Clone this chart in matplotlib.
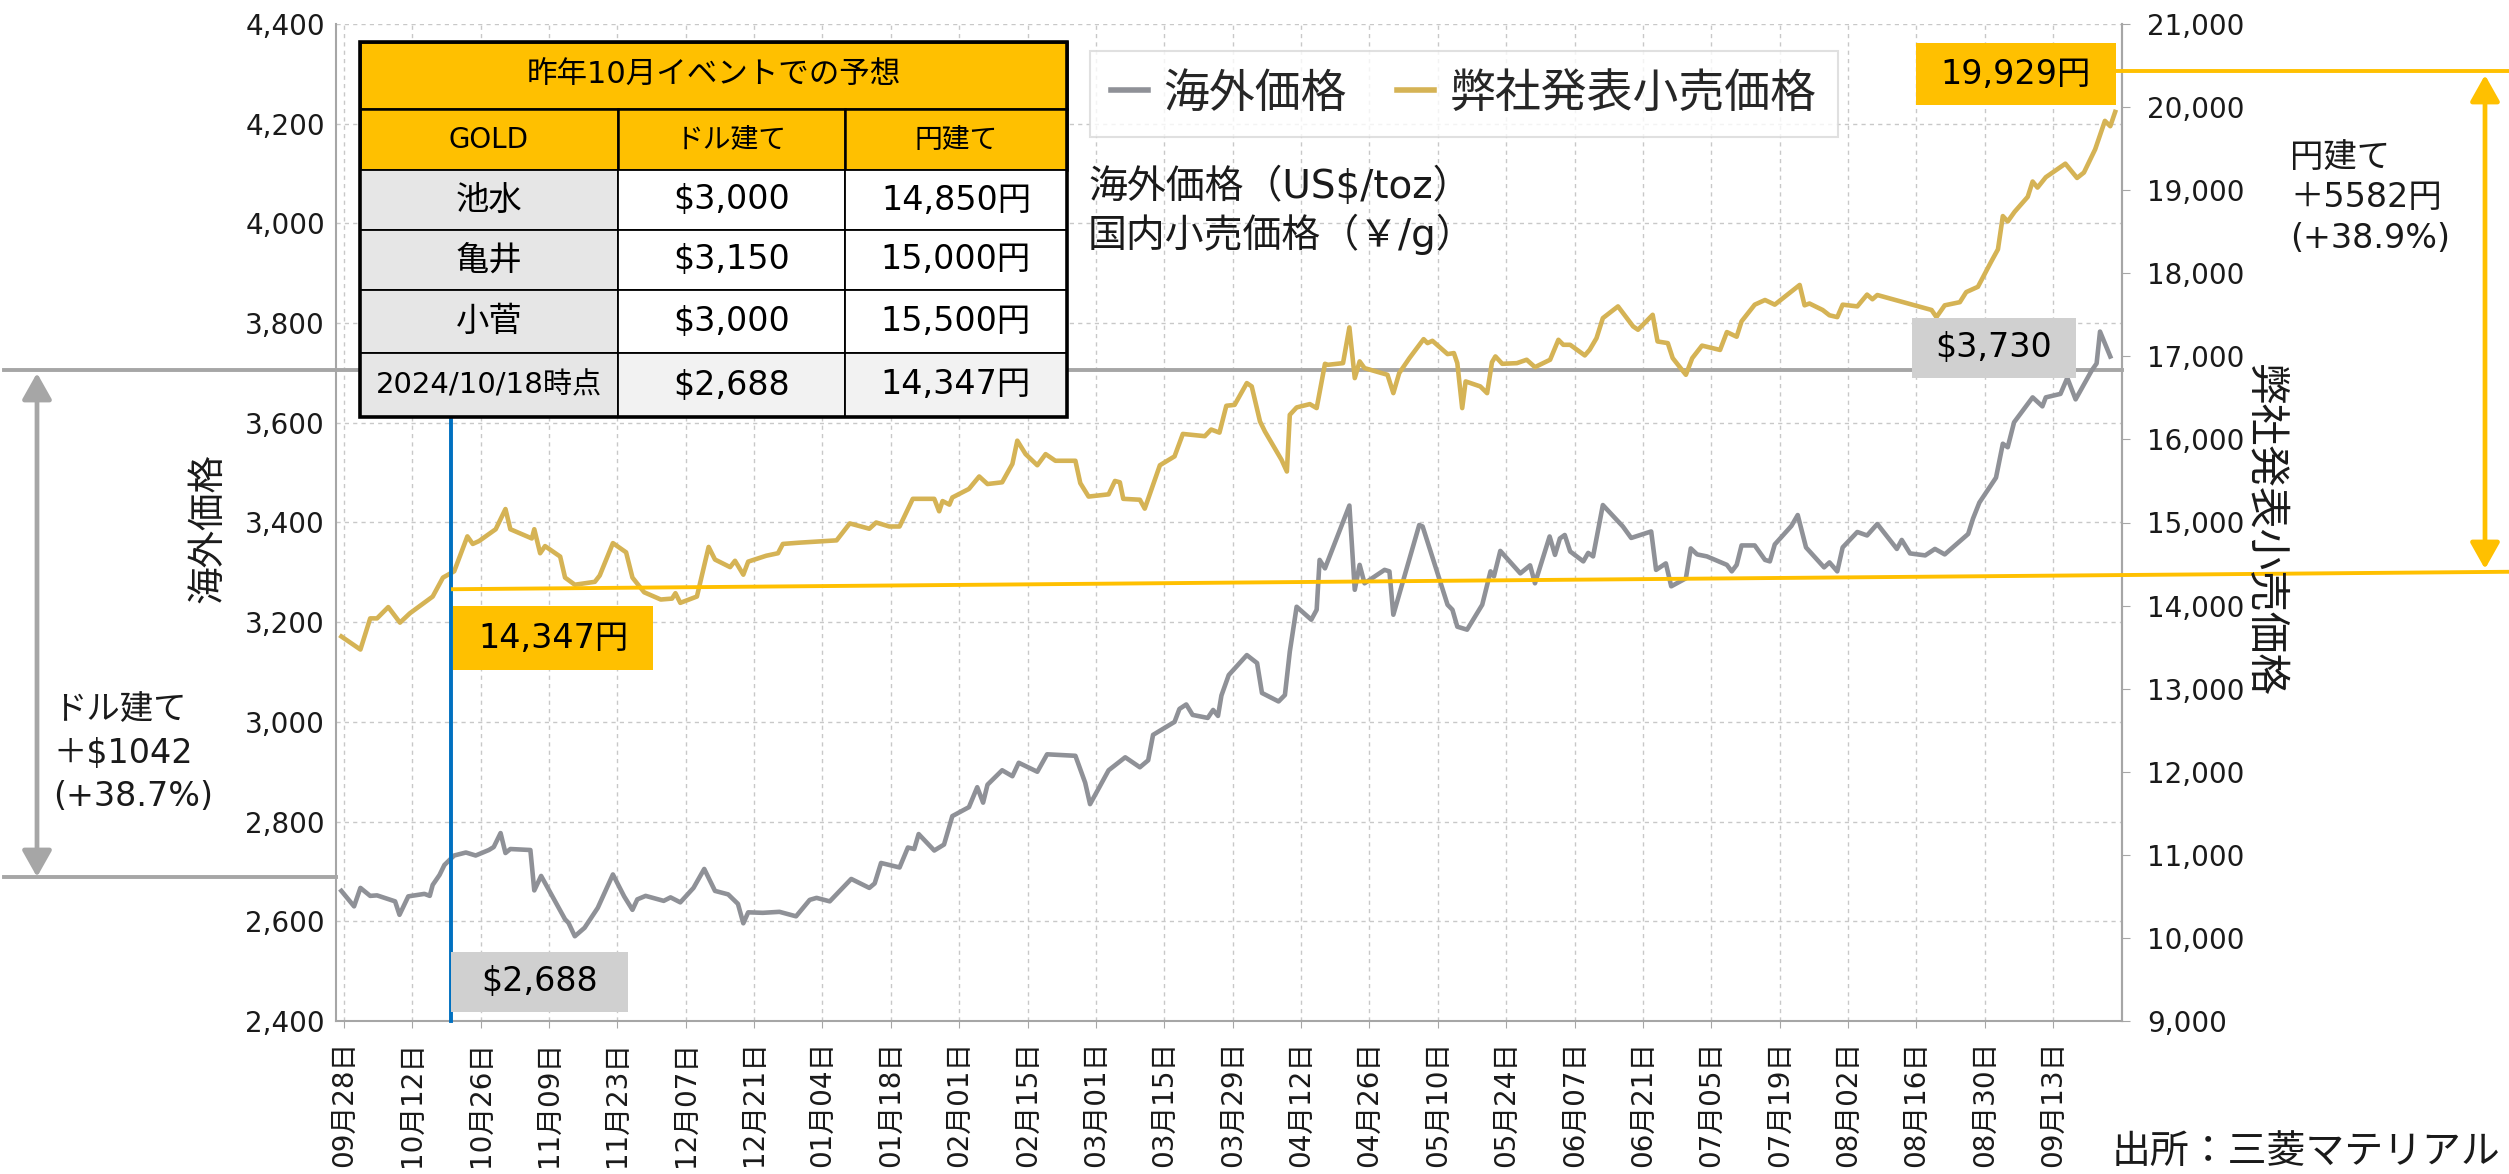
import numpy as np
import pandas as pd
import matplotlib
matplotlib.use('Agg')
import matplotlib.pyplot as plt
import matplotlib.dates as mdates
import matplotlib.transforms as mtrans
from matplotlib.patches import Rectangle, FancyArrowPatch
from matplotlib.lines import Line2D
from matplotlib.ticker import FuncFormatter

plt.rcParams['font.family'] = ['DejaVu Sans', 'Noto Sans CJK JP']

# ---- data (days after 2024-09-28) ----
start = pd.Timestamp('2024-09-28')

usd_day = [-0.5, 2.1, 3.4, 5.4, 6.8, 10.5, 11.4, 13.2, 16.5, 17.6,
           18.2, 19.6, 20.6, 22.6, 25.0, 27.0, 29.7, 30.7, 32.1, 33.1,
           34.1, 38.2, 39.0, 40.4, 42.6, 45.3, 46.0, 47.3, 49.3, 52.0,
           55.1, 57.4, 59.1, 60.1, 61.8, 65.5, 66.9, 68.9, 71.6, 73.8,
           76.0, 78.7, 80.7, 81.8, 82.8, 85.8, 89.2, 92.6,
           95.4, 96.8, 99.5, 103.9, 107.6, 108.7, 110.0, 113.8, 115.5, 116.8,
           117.7, 120.9, 122.9, 124.6, 128.0, 129.7, 130.9, 131.8, 134.8, 136.9,
           138.2, 142.0, 144.0, 149.8, 151.8, 152.8, 156.6, 160.0, 163.0, 164.7,
           165.7, 170.1, 171.1, 172.5, 173.8, 176.9, 178.0, 179.0, 179.7,
           181.2, 184.9, 187.0, 188.0, 191.4, 192.7, 193.7, 195.1, 198.1, 199.2,
           199.8, 200.9, 205.9, 207.0, 208.0, 209.0, 213.1, 214.1, 214.9, 220.2,
           220.9, 226.0, 227.0, 228.0, 230.0, 233.1, 234.8, 235.5, 236.8, 240.9,
           242.9, 243.9, 246.9, 248.0, 249.0, 250.0, 251.1, 253.8, 254.8, 255.8,
           257.8, 261.9, 263.6, 267.7, 268.7, 270.7, 271.8,
           274.8, 275.8, 277.1, 279.1, 283.2, 284.2, 285.2, 286.2, 288.9, 291.0,
           292.0, 293.0, 296.4, 297.7, 299.4, 303.1, 304.2, 305.8, 306.9, 309.9,
           311.9, 314.0, 318.0, 319.0, 320.7, 323.8, 325.8, 327.8, 332.6, 333.6,
           334.9, 338.3, 339.7, 340.7, 342.0, 345.8, 347.8, 348.5, 351.5, 352.9,
           354.6, 357.9, 358.9, 359.6, 361.7]
usd_val = [2661, 2630, 2667, 2651, 2652, 2640, 2613, 2650, 2655, 2651,
           2673, 2693, 2713, 2732, 2738, 2732, 2743, 2749, 2777, 2737,
           2745, 2743, 2662, 2691, 2652, 2604, 2597, 2570, 2587, 2627,
           2694, 2650, 2623, 2644, 2651, 2641, 2648, 2638, 2667, 2705,
           2661, 2654, 2635, 2596, 2618, 2617, 2619, 2610,
           2643, 2647, 2640, 2685, 2667, 2676, 2717, 2708, 2748, 2745,
           2775, 2742, 2754, 2811, 2829, 2869, 2838, 2874, 2903, 2891,
           2918, 2900, 2935, 2932, 2878, 2835, 2903, 2929, 2909, 2923,
           2974, 3000, 3026, 3035, 3014, 3008, 3024, 3012, 3053,
           3094, 3134, 3118, 3058, 3041, 3054, 3141, 3231, 3205, 3225,
           3325, 3308, 3434, 3265, 3315, 3278, 3305, 3302, 3215, 3395,
           3392, 3235, 3225, 3191, 3185, 3235, 3302, 3292, 3343, 3298,
           3314, 3278, 3372, 3335, 3368, 3375, 3342, 3322, 3339, 3332,
           3435, 3392, 3369, 3382, 3305, 3318, 3272,
           3288, 3348, 3336, 3332, 3315, 3302, 3315, 3354, 3354, 3325,
           3322, 3356, 3393, 3415, 3350, 3310, 3320, 3302, 3350, 3381,
           3374, 3397, 3347, 3365, 3338, 3334, 3347, 3336, 3377, 3408,
           3440, 3490, 3558, 3551, 3601, 3651, 3633, 3651, 3658, 3690,
           3647, 3705, 3719, 3783, 3733]

jpy_day = [-0.5, 3.4, 5.4, 6.8, 9.1, 11.5, 13.5, 18.2, 20.3, 22.6,
           25.3, 26.4, 27.7, 31.1, 33.1, 34.1, 38.5, 39.0, 40.2, 41.2,
           44.3, 45.3, 47.3, 51.4, 52.4, 55.1, 57.8, 59.1, 61.5, 64.9,
           67.2, 67.9, 68.9, 72.3, 74.7, 76.0, 79.1, 80.1, 81.8, 82.8,
           86.5, 88.9, 89.9, 93.2,
           100.9, 103.6, 107.6, 109.0, 111.7, 113.8, 116.5, 120.9, 121.9, 122.6,
           124.0, 124.6, 128.0, 130.1, 131.8, 134.8, 136.9, 137.9, 139.6, 142.0,
           143.7, 145.7, 149.8, 150.8, 152.5, 156.6, 157.9, 158.9, 159.6, 163.0,
           164.0, 167.1, 170.1, 171.8, 176.3, 177.6, 179.3, 180.7, 182.4,
           184.9, 185.9, 187.6, 188.6, 191.4, 192.0, 193.1, 193.7, 195.1, 197.8,
           199.2, 200.9, 201.5, 204.6, 205.9, 207.0, 208.0, 209.0, 213.7, 214.9,
           216.1, 218.2, 221.1, 221.9, 222.9, 226.0, 227.3, 228.0, 229.0, 229.7,
           232.7, 234.1, 235.1, 235.8, 237.2, 240.2, 242.2, 243.9, 247.0, 248.7,
           249.7, 251.1, 254.1, 255.1, 256.5, 257.8, 260.9, 264.0, 265.0, 268.0,
           269.0, 271.1, 272.1,
           274.8, 276.1, 278.1, 281.8, 283.2, 285.2, 286.2, 288.9, 291.0, 293.0,
           298.1, 299.1, 300.1, 302.8, 304.2, 305.8, 306.9, 309.9, 311.9, 313.0,
           314.0, 325.1, 326.1, 327.8, 330.9, 332.2, 334.6, 337.3, 338.7, 339.7,
           340.7, 342.1, 344.8, 345.8, 346.8, 348.5, 352.5, 354.9, 356.3, 358.6,
           360.6, 361.7, 362.7]
jpy_val = [13628, 13471, 13846, 13846, 13982, 13795, 13906, 14109, 14337, 14413,
           14833, 14742, 14777, 14919, 15162, 14919, 14808, 14919, 14630, 14716,
           14590, 14337, 14251, 14286, 14362, 14752, 14641, 14337, 14160, 14073,
           14084, 14149, 14033, 14109, 14706, 14554, 14463, 14539, 14372, 14529,
           14600, 14630, 14742, 14757,
           14785, 14989, 14925, 15000, 14952, 14952, 15285, 15285, 15135, 15258,
           15215, 15301, 15404, 15554, 15463, 15484, 15705, 15985, 15823, 15689,
           15823, 15743, 15743, 15474, 15312, 15339, 15500, 15484, 15285, 15274,
           15167, 15689, 15796, 16066, 16039, 16119, 16082, 16405, 16416,
           16678, 16638, 16216, 16096, 15815, 15755, 15614, 16296, 16385, 16425,
           16377, 16910, 16898, 16918, 17348, 16738, 16939, 16858, 16778, 16557,
           16798, 16979, 17207, 17159, 17187, 17027, 17039, 16918, 16377, 16698,
           16638, 16557, 16930, 16999, 16910, 16918, 16959, 16870, 16959, 17199,
           17139, 17139, 17011, 17079, 17219, 17460, 17601, 17360, 17320, 17500,
           17179, 17159, 16979,
           16778, 16978, 17129, 17077, 17292, 17236, 17421, 17622, 17678, 17622,
           17859, 17614, 17636, 17558, 17494, 17472, 17622, 17601, 17743, 17687,
           17738, 17558, 17472, 17614, 17652, 17773, 17837, 18138, 18288, 18688,
           18623, 18739, 18920, 19104, 19031, 19156, 19319, 19147, 19212, 19491,
           19834, 19770, 19942]

usd_ticks = np.arange(2400, 4401, 200)
jpy_ticks = np.arange(9000, 21001, 1000)
x_ticks = pd.date_range('2024-09-28', '2025-09-13', freq='14D')

series_names = ['海外価格', '弊社発表小売価格']

table_title = '昨年10月イベントでの予想'
table_header = ['GOLD', 'ドル建て', '円建て']
table_rows = [['池水', '$3,000', '14,850円'],
              ['亀井', '$3,150', '15,000円'],
              ['小菅', '$3,000', '15,500円'],
              ['2024/10/18時点', '$2,688', '14,347円']]

unit_lines = ['海外価格（US$/toz）', '国内小売価格（￥/g）']
usd_note = ['ドル建て', '＋$1042', '(+38.7%)']
jpy_note = ['円建て', '＋5582円', '(+38.9%)']

event_date = pd.Timestamp('2024-10-20')
usd_then, usd_now = 2688, 3705
jpy_then, jpy_now = 14347, 20430

GRAY = '#8F9197'
GOLD = '#D5B355'
YELLOW = '#FFC000'
BOXGRAY = '#D0D0D0'
LINEGRAY = '#A6A6A6'
BLUE = '#0070C0'
TXT = '#1A1A1A'

W, H = 2509, 1174


def fx(px):
    return px / W


def fy(py):
    return 1 - py / H


fig = plt.figure(figsize=(W / 100, H / 100), dpi=100)
ax = fig.add_axes([fx(336), fy(1021), fx(2122) - fx(336), fy(24) - fy(1021)])
ax2 = ax.twinx()

usd_dates = start + pd.to_timedelta(usd_day, unit='D')
jpy_dates = start + pd.to_timedelta(jpy_day, unit='D')

ax.plot(usd_dates, usd_val, color=GRAY, lw=3.3, solid_joinstyle='round', zorder=3)
ax2.plot(jpy_dates, jpy_val, color=GOLD, lw=3.3, solid_joinstyle='round', zorder=3)

ax.set_xlim(start - pd.Timedelta(days=1.6), start + pd.Timedelta(days=364.1))
ax.set_ylim(2400, 4400)
ax2.set_ylim(9000, 21000)
ax.set_yticks(usd_ticks)
ax2.set_yticks(jpy_ticks)
ax.set_xticks(x_ticks)
ax.xaxis.set_major_formatter(mdates.DateFormatter('%m月%d日'))
comma = FuncFormatter(lambda v, p: f'{v:,.0f}')
ax.yaxis.set_major_formatter(comma)
ax2.yaxis.set_major_formatter(comma)

ax.grid(True, color='#C8C8C8', lw=1.0, ls=(0, (3, 3)))
ax.set_axisbelow(True)
ax.spines['top'].set_visible(False)
for s in ['left', 'bottom', 'right']:
    ax.spines[s].set_color(LINEGRAY)
    ax.spines[s].set_linewidth(1.5)
for s in ['top', 'left', 'bottom']:
    ax2.spines[s].set_visible(False)
ax2.spines['right'].set_color(LINEGRAY)
ax2.spines['right'].set_linewidth(1.5)

ax.tick_params(axis='y', length=0, pad=8, labelsize=20, labelcolor=TXT)
ax.tick_params(axis='x', length=5, color=LINEGRAY, pad=9, labelsize=20,
               labelcolor=TXT, labelrotation=90)
ax2.tick_params(axis='y', length=6, color=LINEGRAY, pad=12, labelsize=20, labelcolor=TXT)

# axis titles
fig.text(fx(208), fy(528), '海外価格', rotation=90, ha='center', va='center',
         fontsize=27, color=TXT)
fig.text(fx(2264), fy(531), '弊社発表小売価格', rotation=270, ha='center', va='center',
         fontsize=30, color=TXT)

# legend
handles = [Line2D([], [], color=GRAY, lw=4), Line2D([], [], color=GOLD, lw=4)]
leg = fig.legend(handles, series_names, loc='center', bbox_to_anchor=(fx(1464), fy(94)),
                 ncol=2, fontsize=33, handlelength=0.8, handletextpad=0.35,
                 columnspacing=1.1, frameon=True, fancybox=False, borderpad=0.45,
                 labelcolor='#262626')
leg.get_frame().set_edgecolor('#D9D9D9')
leg.get_frame().set_linewidth(1.5)

for k, t in enumerate(unit_lines):
    fig.text(fx(1088), fy(186 + 48 * k), t, ha='left', va='center',
             fontsize=28, color=TXT)

# event marker and reference lines
blend_x = mtrans.blended_transform_factory(ax2.transData, fig.transFigure)
ax2.add_line(Line2D([event_date, event_date], [fy(1021), fy(417)], transform=blend_x,
                    color=BLUE, lw=2.8, clip_on=False, zorder=4))
blend_usd = mtrans.blended_transform_factory(fig.transFigure, ax.transData)
blend_jpy = mtrans.blended_transform_factory(fig.transFigure, ax2.transData)
ax.add_line(Line2D([fx(4), fx(2122)], [usd_now, usd_now], transform=blend_usd,
                   color=LINEGRAY, lw=2.8, clip_on=False, zorder=2))
ax.add_line(Line2D([fx(4), fx(336)], [usd_then, usd_then], transform=blend_usd,
                   color=LINEGRAY, lw=2.8, clip_on=False, zorder=2))
ax2.add_line(Line2D([fx(2116), fx(2509)], [jpy_now, jpy_now], transform=blend_jpy,
                    color=YELLOW, lw=2.8, clip_on=False, zorder=4))
ax2.add_line(Line2D([fx(453), fx(2509)], [jpy_then - 150, jpy_then + 60], transform=blend_jpy,
                    color=YELLOW, lw=2.8, clip_on=False, zorder=4))


def arrow(x, y0, y1, color):
    a = FancyArrowPatch((fx(x), fy(y0)), (fx(x), fy(y1)), transform=fig.transFigure,
                        arrowstyle='<|-|>,head_length=0.8,head_width=0.45',
                        mutation_scale=20, lw=3.4, color=color, shrinkA=0, shrinkB=0,
                        zorder=6)
    fig.add_artist(a)


arrow(37, 373, 877, LINEGRAY)
arrow(2485, 75, 569, YELLOW)

for k, t in enumerate(usd_note):
    fig.text(fx(53), fy(710 + 43 * k), t, ha='left', va='center', fontsize=24, color=TXT)
for k, t in enumerate(jpy_note):
    fig.text(fx(2290), fy(157 + 40.5 * k), t, ha='left', va='center', fontsize=24, color=TXT)


def label_box(x0, y0, x1, y1, color, text):
    fig.add_artist(Rectangle((fx(x0), fy(y1)), fx(x1) - fx(x0), fy(y0) - fy(y1),
                             transform=fig.transFigure, facecolor=color,
                             edgecolor='none', zorder=5))
    fig.text(fx((x0 + x1) / 2), fy((y0 + y1) / 2), text, ha='center', va='center',
             fontsize=24, color='black', zorder=6)


label_box(453, 606, 653, 670, YELLOW, f'{jpy_then:,}円')
label_box(451, 952, 628, 1012, BOXGRAY, f'${usd_then:,}')
label_box(1912, 318, 2076, 378, BOXGRAY, '$3,730')
label_box(1916, 43, 2116, 105, YELLOW, '19,929円')

# forecast table
col_x = [360, 618, 845, 1067]
row_y = [42, 109, 170, 230, 290, 353, 417]


def cell(x0, y0, x1, y1, fc, text, size, lw=1.3):
    fig.add_artist(Rectangle((fx(x0), fy(y1)), fx(x1) - fx(x0), fy(y0) - fy(y1),
                             transform=fig.transFigure, facecolor=fc,
                             edgecolor='black', lw=lw, zorder=7))
    fig.text(fx((x0 + x1) / 2), fy((y0 + y1) / 2), text, ha='center', va='center',
             fontsize=size, color='black', zorder=8)


cell(col_x[0], row_y[0], col_x[3], row_y[1], YELLOW, table_title, 22, lw=1.8)
for j, h in enumerate(table_header):
    cell(col_x[j], row_y[1], col_x[j + 1], row_y[2], YELLOW, h, 20, lw=1.8)
for i, row in enumerate(table_rows):
    last = i == len(table_rows) - 1
    for j, v in enumerate(row):
        if j == 0:
            fc = '#E6E6E6'
        elif last:
            fc = '#F2F2F2'
        else:
            fc = 'white'
        size = 21 if (j == 0 and last) else 24
        cell(col_x[j], row_y[i + 2], col_x[j + 1], row_y[i + 3], fc, v, size)
fig.add_artist(Rectangle((fx(col_x[0]), fy(row_y[-1])), fx(col_x[3]) - fx(col_x[0]),
                         fy(row_y[0]) - fy(row_y[-1]), transform=fig.transFigure,
                         facecolor='none', edgecolor='black', lw=2.6, zorder=9))

fig.text(fx(2500), fy(1171), '出所：三菱マテリアル', ha='right', va='bottom',
         fontsize=28, color=TXT)

fig.savefig('out.png', dpi=100, facecolor='white')
